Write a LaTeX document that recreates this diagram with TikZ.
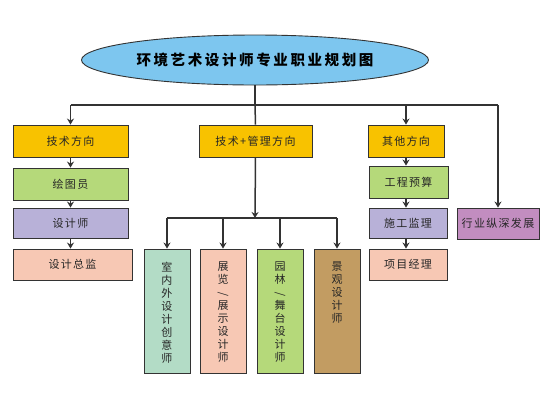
\documentclass[tikz,border=0pt]{standalone}
\usepackage{fontspec}
\newfontfamily\cjk[LetterSpace=12]{Noto Sans CJK SC}
\newfontfamily\cjktitle[LetterSpace=18]{Noto Sans CJK SC}
\usetikzlibrary{shapes.geometric,arrows.meta}

\definecolor{titleblue}{HTML}{7DC6EF}
\definecolor{gold}{HTML}{F8C200}
\definecolor{leaf}{HTML}{B5D97A}
\definecolor{lilac}{HTML}{B8B1D8}
\definecolor{salmon}{HTML}{F7C8B4}
\definecolor{mint}{HTML}{B3DCC6}
\definecolor{tan}{HTML}{C29C62}
\definecolor{violet}{HTML}{C28DC0}
\definecolor{edge}{HTML}{333333}

\tikzset{
  box/.style={draw=edge, line width=0.9pt, rectangle, inner sep=0pt,
    font=\cjk\fontsize{11}{13}\selectfont, text=black!85},
  tallbox/.style={box, minimum width=46pt, minimum height=124pt},
  link/.style={draw=edge, line width=1.5pt},
  arr/.style={link, -{Stealth[length=6pt,width=7pt]}}
}
\newcommand{\vcol}[1]{\parbox[c][98pt][t]{14pt}{\centering #1}}

\begin{document}
\begin{tikzpicture}[x=1pt,y=-1pt]
    \useasboundingbox (0,0) rectangle (550,400);
    % Nodes
    \node[ellipse, draw=edge, line width=0.9pt, fill=titleblue, minimum width=347pt,
      minimum height=50pt, inner sep=0pt, font=\cjktitle\bfseries\fontsize{14.5}{16}\selectfont]
      (title) at (255,60) {环境艺术设计师专业职业规划图};

    \node[box, fill=gold, minimum width=115pt, minimum height=32pt] (tech) at (70.5,141) {技术方向};
    \node[box, fill=leaf, minimum width=115pt, minimum height=32pt] (drafter) at (70.5,184) {绘图员};
    \node[box, fill=lilac, minimum width=115pt, minimum height=30pt] (designer) at (70.5,223) {设计师};
    \node[box, fill=salmon, minimum width=119pt, minimum height=31pt] (director) at (72.5,264.5) {设计总监};

    \node[box, fill=gold, minimum width=113pt, minimum height=32pt] (mgmt) at (255.5,141) {技术+管理方向};
    \node[tallbox, fill=mint] (interior) at (167,311) {\vcol{室\\内\\外\\设\\计\\创\\意\\师}};
    \node[tallbox, fill=salmon] (expo) at (223,311) {\vcol{展\\览\\\rotatebox{90}{/}\\展\\示\\设\\计\\师}};
    \node[tallbox, fill=leaf] (garden) at (280,311) {\vcol{园\\林\\\rotatebox{90}{/}\\舞\\台\\设\\计\\师}};
    \node[tallbox, fill=tan] (landscape) at (337,311) {\vcol{景\\观\\设\\计\\师}};

    \node[box, fill=gold, minimum width=76pt, minimum height=32pt] (other) at (406,141) {其他方向};
    \node[box, fill=leaf, minimum width=79pt, minimum height=32pt] (budget) at (408.5,182) {工程预算};
    \node[box, fill=lilac, minimum width=78pt, minimum height=30pt] (supervise) at (408,223) {施工监理};
    \node[box, fill=salmon, minimum width=78pt, minimum height=31pt] (pm) at (408,264.5) {项目经理};

    \node[box, fill=violet, minimum width=82pt, minimum height=31pt] (depth) at (498,223.5) {行业纵深发展};

    \coordinate (junc) at (255,105);
    \coordinate (junc-l) at (70.5,105);
    \coordinate (junc-r) at (498,105);
    \coordinate (mjunc) at (255,218);
    \coordinate (mjunc-l) at (167,218);
    \coordinate (mjunc-r) at (337,218);

    % Lines
    \draw[link] (title.south) -- (junc);
    \draw[link] (junc-l) -- (junc-r);
    \draw[link] (junc) -- (mgmt.north);
    \draw[arr] (junc-l) -- (tech.north);
    \draw[arr] (junc -| other.north) -- (other.north);
    \draw[arr] (junc-r) -- (depth.north);

    \draw[arr] (tech.south) -- (drafter.north);
    \draw[arr] (drafter.south) -- (drafter.south |- designer.north);
    \draw[arr] (designer.south) -- (designer.south |- director.north);
    \draw[arr] (other.south) -- (other.south |- budget.north);
    \draw[arr] (other.south |- budget.south) -- (other.south |- supervise.north);
    \draw[arr] (other.south |- supervise.south) -- (other.south |- pm.north);

    \draw[arr] (mgmt.south) -- (mjunc);
    \draw[link] (mjunc-l) -- (mjunc-r);
    \draw[arr] (mjunc-l) -- (interior.north);
    \draw[arr] (mjunc -| expo.north) -- (expo.north);
    \draw[arr] (mjunc -| garden.north) -- (garden.north);
    \draw[arr] (mjunc-r) -- (landscape.north);
\end{tikzpicture}
\end{document}
